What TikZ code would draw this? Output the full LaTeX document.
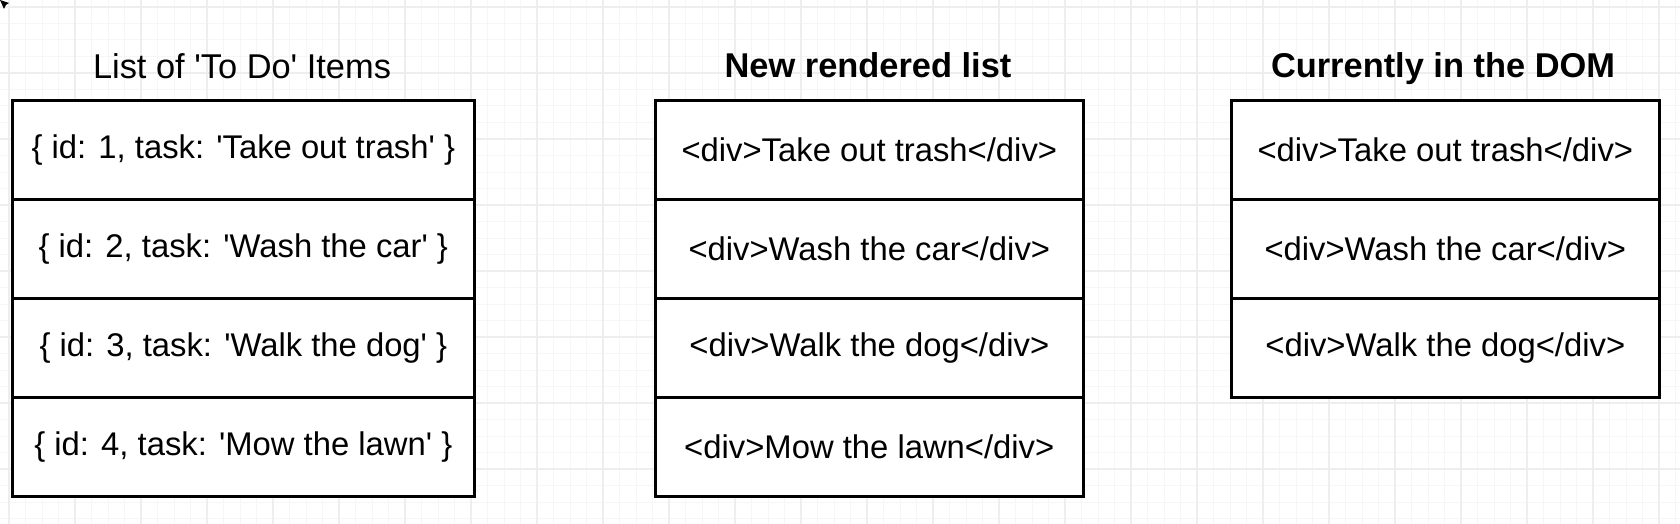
\documentclass[tikz,border=0pt]{standalone}
\usepackage{fontspec}
\newfontfamily\hv{Liberation Sans}
\begin{document}
\begin{tikzpicture}[x=0.5pt,y=-0.5pt,
  minorgrid/.style={draw=black!3.5, line width=0.5pt},
  majorgrid/.style={draw=black!6.5, line width=0.6pt},
  shadowbox/.style={fill=black!30},
  cellL/.style={draw=black, line width=1.3pt, fill=white, anchor=north west,
    minimum width=231pt, minimum height=49.5pt, inner sep=0pt,
    font=\hv\fontsize{16.4}{18}\selectfont},
  cellR/.style={cellL, minimum width=214pt},
  title/.style={inner sep=0pt, anchor=base, font=\hv\fontsize{17.2}{19}\selectfont},
  btitle/.style={title, font=\hv\bfseries\fontsize{17.2}{19}\selectfont}]
\useasboundingbox[fill=white] (0,0) rectangle (1680,524);
% grid
\foreach \k in {0,...,101} \draw[minorgrid] ({9+16.5*\k},0) -- ({9+16.5*\k},524);
\foreach \k in {0,...,31} \draw[minorgrid] (0,{7+16.5*\k}) -- (1680,{7+16.5*\k});
\foreach \k in {0,4,...,100} \draw[majorgrid] ({9+16.5*\k},0) -- ({9+16.5*\k},524);
\foreach \k in {0,4,...,28} \draw[majorgrid] (0,{7+16.5*\k}) -- (1680,{7+16.5*\k});
% cursor
\fill[black] (0,0) -- (9,3) -- (6,5) -- (4,9) -- cycle;
% shadows
\fill[shadowbox] (14,102) rectangle (476,498);
\fill[shadowbox] (657,102) rectangle (1085,498);
\fill[shadowbox] (1233,102) rectangle (1661,399);
% titles
\node[title]  (t1) at (242,79) {List of 'To Do' Items};
\node[btitle] (t2) at (868,78) {New rendered list};
\node[btitle] (t3) at (1443,78) {Currently in the DOM};
% left list
\node[cellL] (a1) at (11,99)  {\{ id: 1, task: 'Take out trash' \}};
\node[cellL] (a2) at (11,198) {\{ id: 2, task: 'Wash the car' \}};
\node[cellL] (a3) at (11,297) {\{ id: 3, task: 'Walk the dog' \}};
\node[cellL] (a4) at (11,396) {\{ id: 4, task: 'Mow the lawn' \}};
% middle list
\node[cellR] (b1) at (654,99)  {<div>Take out trash</div>};
\node[cellR] (b2) at (654,198) {<div>Wash the car</div>};
\node[cellR] (b3) at (654,297) {<div>Walk the dog</div>};
\node[cellR] (b4) at (654,396) {<div>Mow the lawn</div>};
% right list
\node[cellR] (c1) at (1230,99)  {<div>Take out trash</div>};
\node[cellR] (c2) at (1230,198) {<div>Wash the car</div>};
\node[cellR] (c3) at (1230,297) {<div>Walk the dog</div>};
\end{tikzpicture}
\end{document}
